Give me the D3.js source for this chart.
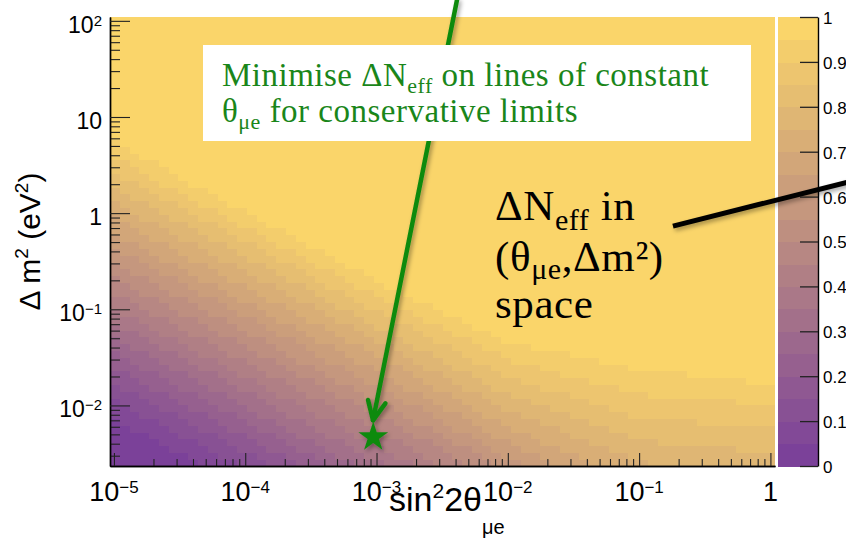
<!DOCTYPE html>
<html>
<head>
<meta charset="utf-8">
<script src="https://cdn.jsdelivr.net/npm/d3@7"></script>
<style>
  html, body { margin: 0; padding: 0; background: #fff; }
  svg { display: block; }
  .tick-label { font-family: "Liberation Sans", Arial, sans-serif; fill: #000; }
</style>
</head>
<body>
<svg id="chart" width="846" height="538"></svg>
<script>
// ΔN_eff colour levels (bands every 0.05)
const levels = [0.05, 0.10, 0.15, 0.20, 0.25, 0.30, 0.35, 0.40, 0.45, 0.50,
                0.55, 0.60, 0.65, 0.70, 0.75, 0.80, 0.85, 0.90, 0.95];

// log10(sin²2θ_μe) nodes at which each ΔN_eff contour is sampled
const contourNodes = [-5.1, -4, -3, -2, -1, 0.1];

// log10(Δm² / eV²) of each contour at those nodes (one row per level above)
const contourLogDm2 = [
  [-2.07, -2.86, -3.58, -4.30, -5.02, -5.82], // 0.05
  [-1.87, -2.66, -3.38, -4.10, -4.82, -5.62], // 0.10
  [-1.69, -2.48, -3.20, -3.92, -4.64, -5.44], // 0.15
  [-1.53, -2.32, -3.04, -3.76, -4.48, -5.28], // 0.20
  [-1.37, -2.16, -2.88, -3.60, -4.32, -5.12], // 0.25
  [-1.22, -2.01, -2.73, -3.45, -4.17, -4.97], // 0.30
  [-1.06, -1.85, -2.57, -3.29, -4.01, -4.81], // 0.35
  [-0.91, -1.70, -2.42, -3.14, -3.86, -4.66], // 0.40
  [-0.75, -1.54, -2.26, -2.98, -3.70, -4.50], // 0.45
  [-0.59, -1.38, -2.10, -2.82, -3.54, -4.34], // 0.50
  [-0.44, -1.23, -1.95, -2.67, -3.30, -3.90], // 0.55
  [-0.28, -1.07, -1.79, -2.54, -3.20, -3.50], // 0.60
  [-0.13, -0.92, -1.64, -2.38, -3.00, -3.25], // 0.65
  [ 0.03, -0.76, -1.48, -2.22, -2.80, -3.00], // 0.70
  [ 0.19, -0.60, -1.32, -2.05, -2.58, -2.75], // 0.75
  [ 0.34, -0.45, -1.17, -1.88, -2.36, -2.50], // 0.80
  [ 0.50, -0.29, -1.01, -1.70, -2.12, -2.25], // 0.85
  [ 0.65, -0.14, -0.86, -1.52, -1.88, -2.00], // 0.90
  [ 0.81,  0.02, -0.70, -1.33, -1.63, -1.78]  // 0.95
];

// axis ticks and their labels (base, superscript)
const xMajorTicks = [1e-5, 1e-4, 1e-3, 1e-2, 1e-1, 1];
const xTickLabels = [["10", "\u22125"], ["10", "\u22124"], ["10", "\u22123"], ["10", "\u22122"], ["10", "\u22121"], ["1", ""]];
const yMajorTicks = [1e-2, 1e-1, 1, 10, 100];
const yTickLabels = [["10", "\u22122"], ["10", "\u22121"], ["1", ""], ["10", ""], ["10", "2"]];
const zTicks = [0, 0.1, 0.2, 0.3, 0.4, 0.5, 0.6, 0.7, 0.8, 0.9, 1];
const zTickLabels = ["0", "0.1", "0.2", "0.3", "0.4", "0.5", "0.6", "0.7", "0.8", "0.9", "1"];

// annotated point and arrows, in (sin²2θ, Δm²)
const starPoint = [9.44e-4, 4.68e-3];
const arrowFrom = [4.1e-3, 165];
const arrowTo = [9.4e-4, 7.0e-3];
const calloutFrom = [0.181, 0.733];
const calloutTo = [5.93, 2.43];

// ---------------------------------------------------------------
const svg = d3.select("#chart");
const frame = { left: 110, right: 775, top: 17, bottom: 466 };
const bar = { left: 778, right: 818 };

const x = d3.scaleLog().domain([Math.pow(10, -5.03), Math.pow(10, 0.035)]).range([frame.left, frame.right]);
const y = d3.scaleLog().domain([Math.pow(10, -2.63), Math.pow(10, 2.04)]).range([frame.bottom, frame.top]);
const z = d3.scaleLinear().domain([0, 1]).range([frame.bottom, frame.top]);

const palette = d3.interpolateRgb("#7b4199", "#fad56a");
const bandColor = b => palette(b / levels.length);

const defs = svg.append("defs");
const sh = defs.append("filter").attr("id", "shadow")
  .attr("x", "-30%").attr("y", "-30%").attr("width", "160%").attr("height", "160%");
sh.append("feDropShadow").attr("dx", 2).attr("dy", 2.5).attr("stdDeviation", 2)
  .attr("flood-color", "#000").attr("flood-opacity", 0.35);

// contour position along its sampled polyline
function contourAt(row, lx) {
  let i = 0;
  while (i < contourNodes.length - 2 && lx > contourNodes[i + 1]) i++;
  const t = (lx - contourNodes[i]) / (contourNodes[i + 1] - contourNodes[i]);
  return row[i] + t * (row[i + 1] - row[i]);
}

// ---- histogram cells ----
const nx = 68, ny = 66;
const lx0 = Math.log10(x.domain()[0]), lx1 = Math.log10(x.domain()[1]);
const ly0 = Math.log10(y.domain()[0]), ly1 = Math.log10(y.domain()[1]);
const cells = [];
for (let i = 0; i < nx; i++) {
  const a = lx0 + (lx1 - lx0) * i / nx, b = lx0 + (lx1 - lx0) * (i + 1) / nx;
  for (let j = 0; j < ny; j++) {
    const c = ly0 + (ly1 - ly0) * j / ny, d = ly0 + (ly1 - ly0) * (j + 1) / ny;
    const cx = (a + b) / 2, cy = (c + d) / 2;
    let band = 0;
    contourLogDm2.forEach(row => { if (cy >= contourAt(row, cx)) band++; });
    cells.push({ s0: Math.pow(10, a), s1: Math.pow(10, b), m0: Math.pow(10, c), m1: Math.pow(10, d), band });
  }
}
svg.append("g").attr("shape-rendering", "crispEdges")
  .selectAll("rect").data(cells).join("rect")
  .attr("x", d => x(d.s0))
  .attr("y", d => y(d.m1))
  .attr("width", d => x(d.s1) - x(d.s0) + 0.6)
  .attr("height", d => y(d.m0) - y(d.m1) + 0.6)
  .attr("fill", d => bandColor(d.band));
// trim cell overlap at the right edge
svg.append("rect").attr("x", frame.right).attr("y", 0).attr("width", bar.left - frame.right).attr("height", frame.bottom + 2).attr("fill", "#fff");

// ---- axes ----
const minor = (lo, hi) => {
  const out = [];
  for (let e = lo; e <= hi; e++) for (let k = 2; k <= 9; k++) out.push(k * Math.pow(10, e));
  return out;
};
const xMinor = minor(-5, -1).filter(v => v >= x.domain()[0] && v <= x.domain()[1]);
const yMinor = minor(-3, 1).filter(v => v >= y.domain()[0] && v <= y.domain()[1]);

const axisStyle = g => {
  g.selectAll(".tick line").attr("stroke", "#222").attr("stroke-width", 1.1);
  g.select(".domain").attr("stroke", "#000").attr("stroke-width", 1.4);
  g.selectAll("text").remove();
};
svg.append("g").attr("transform", `translate(0,${frame.bottom})`)
  .call(d3.axisBottom(x).tickValues(xMinor).tickSize(-7).tickSizeOuter(0).tickFormat(""))
  .call(axisStyle);
svg.append("g").attr("transform", `translate(0,${frame.bottom})`)
  .call(d3.axisBottom(x).tickValues(xMajorTicks).tickSize(-13).tickSizeOuter(0).tickFormat(""))
  .call(axisStyle);
svg.append("g").attr("transform", `translate(${frame.left},0)`)
  .call(d3.axisLeft(y).tickValues(yMinor).tickSize(-10).tickSizeOuter(0).tickFormat(""))
  .call(axisStyle);
svg.append("g").attr("transform", `translate(${frame.left},0)`)
  .call(d3.axisLeft(y).tickValues(yMajorTicks).tickSize(-20).tickSizeOuter(0).tickFormat(""))
  .call(axisStyle);

// x tick labels
xMajorTicks.forEach((v, i) => {
  const t = svg.append("text").attr("class", "tick-label")
    .attr("x", x(v)).attr("y", 501).attr("text-anchor", "middle").attr("font-size", 27);
  t.append("tspan").text(xTickLabels[i][0]);
  if (xTickLabels[i][1]) t.append("tspan").attr("dy", -8).attr("font-size", 17).text(xTickLabels[i][1]);
});
// y tick labels
yMajorTicks.forEach((v, i) => {
  const t = svg.append("text").attr("class", "tick-label")
    .attr("x", 102).attr("y", y(v) + 12).attr("text-anchor", "end").attr("font-size", 23);
  t.append("tspan").text(yTickLabels[i][0]);
  if (yTickLabels[i][1]) t.append("tspan").attr("dy", -7).attr("font-size", 15).text(yTickLabels[i][1]);
});

// axis titles
const xt = svg.append("text").attr("class", "tick-label")
  .attr("x", 389).attr("y", 511).attr("font-size", 34);
xt.append("tspan").text("sin");
xt.append("tspan").attr("dy", -13).attr("font-size", 21).text("2");
xt.append("tspan").attr("dy", 13).text("2\u03b8");
xt.append("tspan").attr("dy", 23).attr("font-size", 20).text("\u03bce");

const yt = svg.append("text").attr("class", "tick-label")
  .attr("transform", `translate(40,${(frame.top + frame.bottom) / 2}) rotate(-90)`)
  .attr("text-anchor", "middle").attr("font-size", 30);
yt.append("tspan").text("\u0394 m");
yt.append("tspan").attr("dy", -12).attr("font-size", 19).text("2");
yt.append("tspan").attr("dy", 12).text(" (eV");
yt.append("tspan").attr("dy", -12).attr("font-size", 19).text("2");
yt.append("tspan").attr("dy", 12).text(")");

// ---- colour bar ----
const bandEdges = [0, ...levels, 1];
svg.append("g").attr("shape-rendering", "crispEdges")
  .selectAll("rect").data(d3.range(bandEdges.length - 1)).join("rect")
  .attr("x", bar.left).attr("width", bar.right - bar.left)
  .attr("y", i => z(bandEdges[i + 1]))
  .attr("height", i => z(bandEdges[i]) - z(bandEdges[i + 1]) + 0.6)
  .attr("fill", i => bandColor(i));
const zAxis = svg.append("g").attr("transform", `translate(${bar.right},0)`)
  .call(d3.axisRight(z).tickValues(zTicks).tickSize(-18).tickSizeOuter(0).tickPadding(5)
    .tickFormat((d, i) => zTickLabels[i]));
zAxis.selectAll(".tick line").attr("stroke", "#222").attr("stroke-width", 1.3);
zAxis.select(".domain").attr("stroke", "#000").attr("stroke-width", 1.4);
zAxis.selectAll("text").attr("class", "tick-label").attr("font-size", 17).attr("fill", "#000")
  .attr("dy", "0.38em");

// ---- green arrow ----
const green = "#0f8a0f";
const ax0 = x(arrowFrom[0]), ay0 = y(arrowFrom[1]);
const ax1 = x(arrowTo[0]), ay1 = y(arrowTo[1]);
const back = Math.atan2(ay0 - ay1, ax0 - ax1);
const headLen = 21, headAng = 25 * Math.PI / 180;
const arrow = svg.append("g").attr("filter", "url(#shadow)")
  .attr("stroke", green).attr("stroke-width", 4.5).attr("stroke-linecap", "round").attr("fill", "none");
arrow.append("line").attr("x1", ax0).attr("y1", ay0).attr("x2", ax1).attr("y2", ay1);
arrow.append("path").attr("stroke-linejoin", "round")
  .attr("d", `M${ax1 + headLen * Math.cos(back - headAng)},${ay1 + headLen * Math.sin(back - headAng)}` +
             `L${ax1},${ay1}` +
             `L${ax1 + headLen * Math.cos(back + headAng)},${ay1 + headLen * Math.sin(back + headAng)}`);

// ---- text box ----
svg.append("rect").attr("x", 203).attr("y", 45).attr("width", 548).attr("height", 96).attr("fill", "#fff");
const serif = '"Liberation Serif", "Times New Roman", serif';
const g1 = svg.append("text").attr("x", 222).attr("y", 86)
  .attr("font-family", serif).attr("font-size", 33).attr("letter-spacing", 0.5).attr("fill", "#1a861a");
g1.append("tspan").text("Minimise \u0394N");
g1.append("tspan").attr("dy", 7).attr("font-size", 22).text("eff");
g1.append("tspan").attr("dy", -7).text(" on lines of constant");
const g2 = svg.append("text").attr("x", 222).attr("y", 122)
  .attr("font-family", serif).attr("font-size", 33).attr("letter-spacing", 0.5).attr("fill", "#1a861a");
g2.append("tspan").text("\u03b8");
g2.append("tspan").attr("dy", 7).attr("font-size", 22).text("\u03bce");
g2.append("tspan").attr("dy", -7).text(" for conservative limits");

// ---- black annotation ----
const b1 = svg.append("text").attr("x", 495).attr("y", 220)
  .attr("font-family", serif).attr("font-size", 43).attr("letter-spacing", 0.6).attr("fill", "#000");
b1.append("tspan").text("\u0394N");
b1.append("tspan").attr("dy", 10).attr("font-size", 30).text("eff");
b1.append("tspan").attr("dy", -10).text(" in");
const b2 = svg.append("text").attr("x", 495).attr("y", 271)
  .attr("font-family", serif).attr("font-size", 43).attr("letter-spacing", 0.6).attr("fill", "#000");
b2.append("tspan").text("(\u03b8");
b2.append("tspan").attr("dy", 8).attr("font-size", 30).text("\u03bce");
b2.append("tspan").attr("dy", -8).text(",\u0394m\u00b2)");
svg.append("text").attr("x", 495).attr("y", 318)
  .attr("font-family", serif).attr("font-size", 43).attr("letter-spacing", 0.6).attr("fill", "#000").text("space");

svg.append("line").attr("filter", "url(#shadow)")
  .attr("x1", x(calloutFrom[0])).attr("y1", y(calloutFrom[1]))
  .attr("x2", x(calloutTo[0])).attr("y2", y(calloutTo[1]))
  .attr("stroke", "#000").attr("stroke-width", 5);

// ---- star ----
svg.append("path").attr("filter", "url(#shadow)")
  .attr("transform", `translate(${x(starPoint[0])},${y(starPoint[1])})`)
  .attr("d", d3.symbol(d3.symbolStar, 273)())
  .attr("fill", green);
</script>
</body>
</html>
